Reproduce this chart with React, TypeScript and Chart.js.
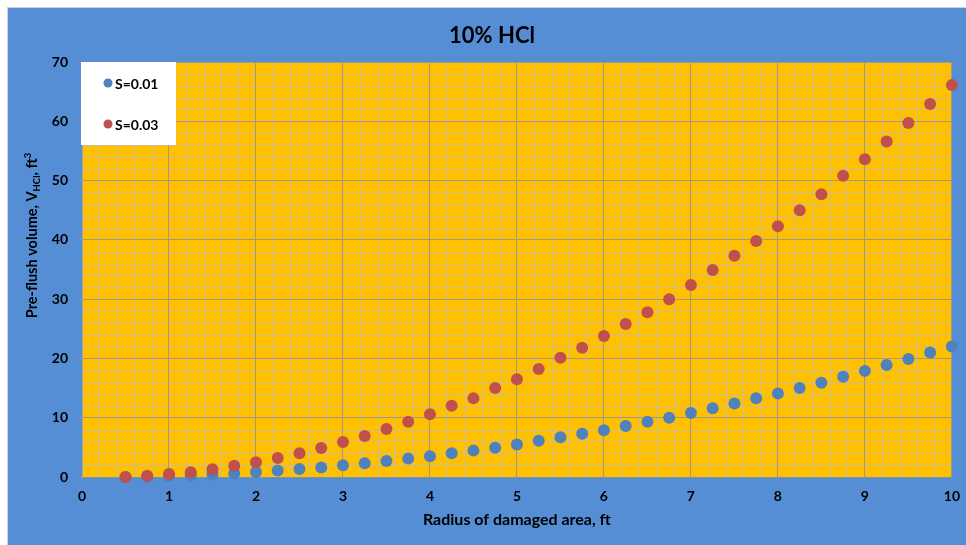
import React, { useEffect, useRef } from "react";
import { Chart, registerables } from "chart.js";

Chart.register(...registerables);

// ---- data ----
const radius = [
  0.5, 0.75, 1, 1.25, 1.5, 1.75, 2, 2.25, 2.5, 2.75, 3, 3.25, 3.5, 3.75, 4,
  4.25, 4.5, 4.75, 5, 5.25, 5.5, 5.75, 6, 6.25, 6.5, 6.75, 7, 7.25, 7.5, 7.75,
  8, 8.25, 8.5, 8.75, 9, 9.25, 9.5, 9.75, 10,
];
const volumeS001 = [
  0.0, 0.05, 0.15, 0.3, 0.45, 0.6, 0.85, 1.1, 1.35, 1.6, 2.0, 2.3, 2.7, 3.1,
  3.5, 4.0, 4.45, 4.95, 5.5, 6.1, 6.7, 7.3, 7.9, 8.6, 9.3, 10.0, 10.8, 11.6,
  12.4, 13.3, 14.1, 15.0, 15.9, 16.9, 17.9, 18.9, 19.9, 21.0, 22.0,
];
const volumeS003 = [
  0.0, 0.2, 0.5, 0.8, 1.3, 1.9, 2.5, 3.2, 4.0, 4.9, 5.9, 6.9, 8.1, 9.3, 10.6,
  12.0, 13.3, 15.0, 16.5, 18.2, 20.1, 21.8, 23.8, 25.8, 27.8, 30.0, 32.4, 34.9,
  37.3, 39.8, 42.3, 45.0, 47.7, 50.8, 53.6, 56.6, 59.7, 62.9, 66.1,
];
const seriesLabels = ["S=0.01", "S=0.03"];
const seriesColors = ["#4F81BD", "#C0504D"];
const chartTitle = "10% HCl";
const xAxisTitle = "Radius of damaged area, ft";
const yAxisTitleParts = [
  { text: "Pre-flush volume, V", kind: "normal" },
  { text: "HCl", kind: "sub" },
  { text: ", ft", kind: "normal" },
  { text: "3", kind: "sup" },
];
// axis ranges with major (labelled) and minor grid steps
const xRange = { min: 0, max: 10, major: 1, minor: 0.2 };
const yRange = { min: 0, max: 70, major: 10, minor: 2 };

const FONT = "Lato, 'Open Sans', sans-serif";
const BG = "#558ED5";
const PLOT_BG = "#FFC000";
const MAJOR = "#9E9A8C";
const MINOR = "#CDBD90";

const isWhole = (v: number, step: number) =>
  Math.abs(v / step - Math.round(v / step)) < 1e-6;

const backgroundPlugin = {
  id: "bgPlugin",
  beforeDraw(chart: any) {
    const { ctx, chartArea: a, width, height, scales } = chart;
    ctx.save();
    ctx.fillStyle = BG;
    ctx.fillRect(0, 0, width, height);
    ctx.fillStyle = PLOT_BG;
    ctx.fillRect(a.left, a.top, a.right - a.left, a.bottom - a.top);
    // minor grid lines, positioned through the chart's scales
    ctx.strokeStyle = MINOR;
    ctx.lineWidth = 1;
    ctx.beginPath();
    const nx = Math.round((xRange.max - xRange.min) / xRange.minor);
    for (let i = 0; i <= nx; i++) {
      const v = xRange.min + i * xRange.minor;
      if (isWhole(v, xRange.major)) continue;
      const px = Math.round(scales.x.getPixelForValue(v)) + 0.5;
      ctx.moveTo(px, a.top);
      ctx.lineTo(px, a.bottom);
    }
    const ny = Math.round((yRange.max - yRange.min) / yRange.minor);
    for (let i = 0; i <= ny; i++) {
      const v = yRange.min + i * yRange.minor;
      if (isWhole(v, yRange.major)) continue;
      const py = Math.round(scales.y.getPixelForValue(v)) + 0.5;
      ctx.moveTo(a.left, py);
      ctx.lineTo(a.right, py);
    }
    ctx.stroke();
    // chart title
    ctx.fillStyle = "#000";
    ctx.font = `bold 22px ${FONT}`;
    ctx.textAlign = "center";
    ctx.textBaseline = "middle";
    ctx.fillText(chartTitle, 484, 28);
    ctx.restore();
  },
};

const legendPlugin = {
  id: "boxLegend",
  afterDatasetsDraw(chart: any) {
    const { ctx, chartArea: a } = chart;
    ctx.save();
    const x0 = a.left - 1;
    const y0 = a.top;
    ctx.fillStyle = "#FFFFFF";
    ctx.fillRect(x0, y0, 95, 83);
    seriesLabels.forEach((lab, i) => {
      const cy = y0 + 21 + i * 41;
      ctx.beginPath();
      ctx.fillStyle = seriesColors[i];
      ctx.arc(x0 + 27, cy, 4.5, 0, Math.PI * 2);
      ctx.fill();
      ctx.fillStyle = "#000";
      ctx.font = `bold 14px ${FONT}`;
      ctx.textBaseline = "middle";
      ctx.textAlign = "left";
      ctx.fillText(lab, x0 + 34, cy + 1);
    });
    ctx.restore();
  },
};

const yTitlePlugin = {
  id: "yTitle",
  afterDraw(chart: any) {
    const { ctx, chartArea: a } = chart;
    const big = `bold 14.5px ${FONT}`;
    const small = `bold 9.5px ${FONT}`;
    ctx.save();
    let total = 0;
    const widths = yAxisTitleParts.map((p) => {
      ctx.font = p.kind === "normal" ? big : small;
      const w = ctx.measureText(p.text).width;
      total += w;
      return w;
    });
    ctx.translate(24, (a.top + a.bottom) / 2 - 34);
    ctx.rotate(-Math.PI / 2);
    ctx.fillStyle = "#000";
    ctx.textBaseline = "alphabetic";
    ctx.textAlign = "left";
    let x = -total / 2;
    const base = 5;
    yAxisTitleParts.forEach((p, i) => {
      ctx.font = p.kind === "normal" ? big : small;
      const dy = p.kind === "sub" ? 3 : p.kind === "sup" ? -6 : 0;
      ctx.fillText(p.text, x, base + dy);
      x += widths[i];
    });
    ctx.restore();
  },
};

export default function App() {
  const ref = useRef<HTMLCanvasElement>(null);

  useEffect(() => {
    if (!ref.current) return;
    const chart = new Chart(ref.current, {
      type: "scatter",
      data: {
        datasets: [
          {
            label: seriesLabels[0],
            data: radius.map((r, i) => ({ x: r, y: volumeS001[i] })),
            backgroundColor: seriesColors[0],
            borderColor: seriesColors[0],
            pointRadius: 6,
            pointBorderWidth: 0,
            order: 1,
            clip: false as any,
          },
          {
            label: seriesLabels[1],
            data: radius.map((r, i) => ({ x: r, y: volumeS003[i] })),
            backgroundColor: seriesColors[1],
            borderColor: seriesColors[1],
            pointRadius: 6,
            pointBorderWidth: 0,
            order: 0,
            clip: false as any,
          },
        ],
      },
      options: {
        responsive: false,
        animation: false,
        devicePixelRatio: 1,
        layout: { padding: { left: 0, right: 11, top: 54, bottom: 0 }, autoPadding: false },
        plugins: {
          legend: { display: false },
          tooltip: { enabled: false },
          title: { display: false },
        },
        scales: {
          x: {
            type: "linear",
            min: xRange.min,
            max: xRange.max,
            afterFit: (s: any) => {
              s.height = 68;
            },
            ticks: {
              stepSize: xRange.major,
              autoSkip: false,
              maxRotation: 0,
              minRotation: 0,
              padding: 6,
              color: "#000",
              font: { family: FONT, size: 14, weight: "bold" },
            },
            grid: {
              color: MAJOR,
              tickColor: "#8C8C8C",
              tickLength: 5,
              lineWidth: 1,
            },
            border: { display: true, color: "#7F8FA6", width: 1 },
            title: {
              display: true,
              text: xAxisTitle,
              color: "#000",
              font: { family: FONT, size: 16, weight: "bold" },
              padding: { top: 0, bottom: 16 },
            },
          },
          y: {
            type: "linear",
            min: yRange.min,
            max: yRange.max,
            afterFit: (s: any) => {
              s.width = 74;
            },
            ticks: {
              stepSize: yRange.major,
              autoSkip: false,
              padding: 9,
              color: "#000",
              font: { family: FONT, size: 14, weight: "bold" },
            },
            grid: {
              color: MAJOR,
              tickColor: "#8C8C8C",
              tickLength: 5,
              lineWidth: 1,
            },
            border: { display: true, color: "#A6A6A6", width: 1 },
          },
        },
      },
      plugins: [backgroundPlugin, legendPlugin, yTitlePlugin],
    });
    return () => chart.destroy();
  }, []);

  return (
    <div
      style={{
        position: "fixed",
        left: 7,
        top: 7,
        width: 959,
        height: 538,
        borderLeft: "1px solid #D0D0D0",
        borderTop: "1px solid #D0D0D0",
        boxSizing: "border-box",
      }}
    >
      <canvas ref={ref} width={958} height={537} style={{ display: "block", width: 958, height: 537 }} />
    </div>
  );
}
